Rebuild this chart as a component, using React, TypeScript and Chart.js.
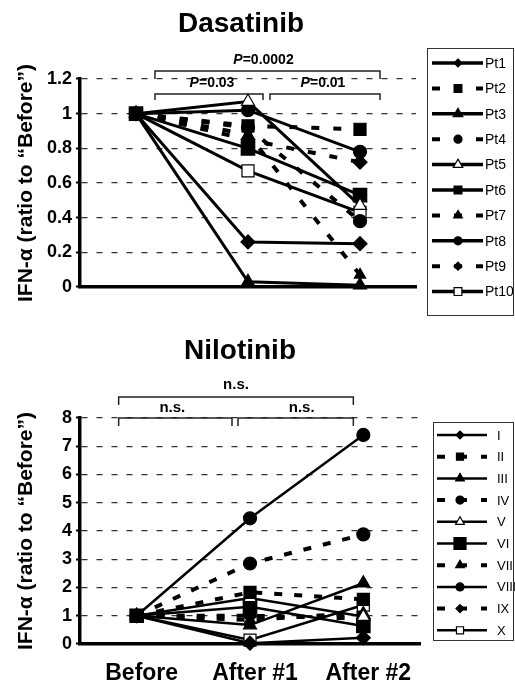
import React, { useEffect, useRef } from 'react';
import { Chart, registerables } from 'chart.js';

Chart.register(...registerables);

const FONT = 'Arial, "Liberation Sans", Helvetica, sans-serif';
const NARROW = '"Liberation Sans Narrow", "Arial Narrow", Arial, "Liberation Sans", sans-serif';

// ---------- data ----------
const categories = ['Before', 'After #1', 'After #2'];

const dasatinibNames = ['Pt1', 'Pt2', 'Pt3', 'Pt4', 'Pt5', 'Pt6', 'Pt7', 'Pt8', 'Pt9', 'Pt10'];
const dasPt1 = [1, 0.26, 0.25];
const dasPt2 = [1, 0.93, 0.91];
const dasPt3 = [1, 0.03, 0.01];
const dasPt4 = [1, 0.92, 0.38];
const dasPt5 = [1, 1.07, 0.47];
const dasPt6 = [1, 0.8, 0.53];
const dasPt7 = [1, 0.88, 0.07];
const dasPt8 = [1, 1.02, 0.78];
const dasPt9 = [1, 0.85, 0.72];
const dasPt10 = [1, 0.67, 0.43];
const dasatinibValues = [dasPt1, dasPt2, dasPt3, dasPt4, dasPt5, dasPt6, dasPt7, dasPt8, dasPt9, dasPt10];
const dasatinibTicks = [0, 0.2, 0.4, 0.6, 0.8, 1, 1.2];

const nilotinibNames = ['I', 'II', 'III', 'IV', 'V', 'VI', 'VII', 'VIII', 'IX', 'X'];
const nilI = [1, 0.03, 0.22];
const nilII = [1, 1.83, 1.58];
const nilIII = [1, 0.67, 2.15];
const nilIV = [1, 2.85, 3.88];
const nilV = [1, 1.63, 0.97];
const nilVI = [1, 1.32, 0.64];
const nilVII = [1, 0.85, 1.1];
const nilVIII = [1, 4.45, 7.4];
const nilIX = [1, 1.0, 0.9];
const nilX = [1, 0.14, 1.38];
const nilotinibValues = [nilI, nilII, nilIII, nilIV, nilV, nilVI, nilVII, nilVIII, nilIX, nilX];
const nilotinibTicks = [0, 1, 2, 3, 4, 5, 6, 7, 8];

const yTitle = 'IFN-\u03B1 (ratio to \u201CBefore\u201D)';

// ---------- styles ----------
const markerTypes = ['diamond', 'square', 'triangle', 'circle', 'openTriangle', 'bigSquare', 'star', 'circle', 'diamond', 'openSquare'];
const dashedSeries = [false, true, false, true, false, false, true, false, true, false];

const pointStyleOf: Record<string, string> = {
  diamond: 'rectRot', square: 'rect', bigSquare: 'rect', triangle: 'triangle', openTriangle: 'triangle',
  star: 'triangle', circle: 'circle', openSquare: 'rect',
};
const radiusOf: Record<string, number> = {
  diamond: 7, square: 8.5, bigSquare: 9.5, triangle: 7.5, openTriangle: 7.5, star: 6.5, circle: 6.5, openSquare: 8.5,
};

function drawMarker(ctx: CanvasRenderingContext2D, type: string, x: number, y: number, r: number) {
  ctx.save();
  ctx.beginPath();
  const open = type === 'openTriangle' || type === 'openSquare';
  if (type === 'circle') {
    ctx.arc(x, y, r, 0, Math.PI * 2);
  } else if (type === 'square' || type === 'bigSquare' || type === 'openSquare') {
    const s = r * Math.SQRT1_2;
    ctx.rect(x - s, y - s, 2 * s, 2 * s);
  } else if (type === 'diamond') {
    ctx.moveTo(x, y - r); ctx.lineTo(x + r, y); ctx.lineTo(x, y + r); ctx.lineTo(x - r, y); ctx.closePath();
  } else {
    ctx.moveTo(x, y - r); ctx.lineTo(x + r * 0.866, y + r * 0.5); ctx.lineTo(x - r * 0.866, y + r * 0.5); ctx.closePath();
  }
  ctx.fillStyle = open ? '#fff' : '#000';
  ctx.fill();
  ctx.lineWidth = 1.2;
  ctx.strokeStyle = '#000';
  ctx.stroke();
  ctx.restore();
}

type Bracket = { i1: number; o1: number; i2: number; o2: number; y: number; leg: number; text: string; ty: number; tdx: number };
type Overlay = {
  title: string; titleX: number; titleY: number;
  brackets: Bracket[]; bracketFont: number;
  legend: { x: number; y: number; w: number; h: number; firstY: number; step: number; lx1: number; lx2: number; mx: number; tx: number; font: number; mr: Record<string, number>; solidW: number; dashW: number; dash: number[] };
  names: string[];
};

function drawText(ctx: CanvasRenderingContext2D, text: string, cx: number, cy: number, size: number) {
  ctx.textBaseline = 'middle';
  ctx.fillStyle = '#000';
  if (text.startsWith('P=')) {
    const pf = `italic bold ${size}px ${FONT}`;
    const rf = `bold ${size}px ${FONT}`;
    ctx.font = pf; const w1 = ctx.measureText('P').width;
    const rest = text.slice(1);
    ctx.font = rf; const w2 = ctx.measureText(rest).width;
    const x0 = cx - (w1 + w2) / 2;
    ctx.textAlign = 'left';
    ctx.font = pf; ctx.fillText('P', x0, cy);
    ctx.font = rf; ctx.fillText(rest, x0 + w1, cy);
  } else {
    ctx.font = `bold ${size}px ${FONT}`;
    ctx.textAlign = 'center';
    ctx.fillText(text, cx, cy);
  }
}

function overlayPlugin(o: Overlay) {
  return {
    id: 'overlay',
    afterDraw(chart: any) {
      const ctx: CanvasRenderingContext2D = chart.ctx;
      const xs = chart.scales.x;
      ctx.save();
      // title
      ctx.fillStyle = '#000';
      ctx.font = `bold 28px ${FONT}`;
      ctx.textAlign = 'center';
      ctx.textBaseline = 'middle';
      ctx.fillText(o.title, o.titleX, o.titleY);
      // brackets
      ctx.strokeStyle = '#222';
      ctx.lineWidth = 1.5;
      for (const b of o.brackets) {
        const x1 = xs.getPixelForValue(b.i1) + b.o1;
        const x2 = xs.getPixelForValue(b.i2) + b.o2;
        ctx.beginPath();
        ctx.moveTo(x1, b.leg); ctx.lineTo(x1, b.y); ctx.lineTo(x2, b.y); ctx.lineTo(x2, b.leg);
        ctx.stroke();
        drawText(ctx, b.text, (x1 + x2) / 2 + b.tdx, b.ty, o.bracketFont);
      }
      // legend
      const L = o.legend;
      ctx.fillStyle = '#fff';
      ctx.fillRect(L.x, L.y, L.w, L.h);
      ctx.strokeStyle = '#333';
      ctx.lineWidth = 1;
      ctx.strokeRect(L.x + 0.5, L.y + 0.5, L.w, L.h);
      o.names.forEach((name, i) => {
        const y = L.firstY + i * L.step;
        ctx.save();
        ctx.strokeStyle = '#000';
        ctx.lineWidth = dashedSeries[i] ? L.dashW : L.solidW;
        ctx.setLineDash(dashedSeries[i] ? L.dash : []);
        ctx.beginPath();
        ctx.moveTo(L.lx1, y); ctx.lineTo(L.lx2, y);
        ctx.stroke();
        ctx.restore();
        drawMarker(ctx, markerTypes[i], L.mx, y, L.mr[markerTypes[i]]);
        ctx.fillStyle = '#000';
        ctx.font = `${L.font}px ${NARROW}`;
        ctx.textAlign = 'left';
        ctx.textBaseline = 'middle';
        ctx.fillText(name, L.tx, y + 1);
      });
      ctx.restore();
    },
  };
}

function makeDatasets(names: string[], values: number[][], solidW: number, dashW: number, dash: number[], scale: number) {
  return names.map((name, i) => {
    const m = markerTypes[i];
    const open = m === 'openTriangle' || m === 'openSquare';
    return {
      label: name,
      data: values[i],
      borderColor: '#000',
      borderWidth: dashedSeries[i] ? dashW : solidW,
      borderDash: dashedSeries[i] ? dash : [],
      pointStyle: pointStyleOf[m],
      pointRadius: radiusOf[m] * scale,
      pointBackgroundColor: open ? '#fff' : '#000',
      pointBorderColor: '#000',
      pointBorderWidth: 1.2,
      tension: 0,
      fill: false,
      clip: false as any,
    };
  });
}

function makeConfig(p: {
  names: string[]; values: number[][]; ticks: number[]; showX: boolean;
  padTop: number; padBottom: number; padRight: number; xHeight: number; solidW: number; dashW: number; dash: number[]; scale: number; overlay: Overlay;
}): any {
  const yMax = p.ticks[p.ticks.length - 1];
  return {
    type: 'line',
    data: { labels: categories, datasets: makeDatasets(p.names, p.values, p.solidW, p.dashW, p.dash, p.scale) },
    options: {
      responsive: false,
      animation: false,
      events: [],
      layout: { padding: { top: p.padTop, right: p.padRight, bottom: p.padBottom, left: 0 } },
      plugins: { legend: { display: false }, title: { display: false }, tooltip: { enabled: false } },
      scales: {
        x: {
          offset: true,
          grid: { display: false, drawTicks: false },
          border: { display: true, color: '#000', width: 3.5 },
          ticks: { display: p.showX, color: '#000', padding: 16, labelOffset: 5, font: { family: FONT, size: 23, weight: 'bold' } },
          afterFit: (s: any) => { s.height = p.xHeight; },
        },
        y: {
          min: 0,
          max: yMax,
          afterBuildTicks: (s: any) => { s.ticks = p.ticks.map((v) => ({ value: v })); },
          ticks: { color: '#000', padding: 4, font: { family: FONT, size: 18, weight: 'bold' }, callback: (v: any) => String(v) },
          grid: { color: '#333', lineWidth: 1.2, drawTicks: true, tickLength: 4, tickColor: '#000', tickWidth: 2, tickBorderDash: [] },
          border: { display: true, color: '#000', width: 3.5, dash: [6, 9] },
          title: { display: true, text: yTitle, color: '#000', font: { family: FONT, size: 21, weight: 'bold' }, padding: { top: 14, bottom: 0 } },
          afterFit: (s: any) => { s.width = 80; },
        },
      },
    },
    plugins: [overlayPlugin(p.overlay)],
  };
}

const dasatinibOverlay: Overlay = {
  title: 'Dasatinib', titleX: 241, titleY: 24,
  bracketFont: 14,
  brackets: [
    { i1: 0, o1: 19, i2: 2, o2: 20, y: 71, leg: 79, text: 'P=0.0002', ty: 60, tdx: -4 },
    { i1: 0, o1: 19, i2: 1, o2: 15, y: 94, leg: 100, text: 'P=0.03', ty: 83, tdx: 3 },
    { i1: 1, o1: 22, i2: 2, o2: 20, y: 94, leg: 100, text: 'P=0.01', ty: 83, tdx: -2 },
  ],
  legend: {
    x: 427, y: 48, w: 86, h: 267, firstY: 63, step: 25.4, lx1: 432, lx2: 483, mx: 458, tx: 485, font: 14,
    mr: { diamond: 4, square: 5.5, bigSquare: 5.5, triangle: 5.5, openTriangle: 5.5, star: 5, circle: 4, openSquare: 5.5 },
    solidW: 3.5, dashW: 4, dash: [8, 14],
  },
  names: dasatinibNames,
};

const nilotinibOverlay: Overlay = {
  title: 'Nilotinib', titleX: 240, titleY: 21,
  bracketFont: 15,
  brackets: [
    { i1: 0, o1: -18, i2: 2, o2: -10, y: 67, leg: 75, text: 'n.s.', ty: 55, tdx: 0 },
    { i1: 0, o1: -18, i2: 1, o2: -18, y: 88, leg: 96, text: 'n.s.', ty: 78, tdx: -3 },
    { i1: 1, o1: -12, i2: 2, o2: -10, y: 88, leg: 96, text: 'n.s.', ty: 78, tdx: 6 },
  ],
  legend: {
    x: 433, y: 92, w: 80, h: 218, firstY: 105, step: 21.7, lx1: 437, lx2: 487, mx: 460, tx: 497, font: 13,
    mr: { diamond: 4, square: 5, bigSquare: 8.5, triangle: 5, openTriangle: 5, star: 5, circle: 4, openSquare: 5 },
    solidW: 2.5, dashW: 4, dash: [8, 14],
  },
  names: nilotinibNames,
};

function ChartCanvas({ make, width, height, top }: { make: () => any; width: number; height: number; top: number }) {
  const ref = useRef<HTMLCanvasElement>(null);
  useEffect(() => {
    const chart = new Chart(ref.current as HTMLCanvasElement, make());
    return () => chart.destroy();
  }, []);
  return (
    <canvas
      ref={ref}
      width={width}
      height={height}
      style={{ position: 'absolute', left: 0, top, width, height, display: 'block' }}
    />
  );
}

export default function App() {
  Chart.defaults.font.family = FONT;
  Chart.defaults.color = '#000';
  return (
    <div style={{ position: 'absolute', left: 0, top: 0, width: 515, height: 682, background: '#fff', overflow: 'hidden' }}>
      <ChartCanvas
        width={515}
        height={335}
        top={0}
        make={() =>
          makeConfig({
            names: dasatinibNames, values: dasatinibValues, ticks: dasatinibTicks, showX: false,
            padTop: 79, padBottom: 38, padRight: 99, xHeight: 10, solidW: 3, dashW: 4, dash: [8, 14], scale: 1, overlay: dasatinibOverlay,
          })
        }
      />
      <ChartCanvas
        width={515}
        height={352}
        top={330}
        make={() =>
          makeConfig({
            names: nilotinibNames, values: nilotinibValues, ticks: nilotinibTicks, showX: true,
            padTop: 88, padBottom: 0, padRight: 95, xHeight: 38, solidW: 2.5, dashW: 4, dash: [8, 12], scale: 1, overlay: nilotinibOverlay,
          })
        }
      />
    </div>
  );
}
